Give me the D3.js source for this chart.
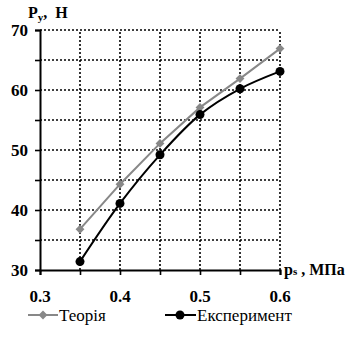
<!DOCTYPE html>
<html><head><meta charset="utf-8">
<script src="https://cdn.jsdelivr.net/npm/d3@7"></script>
</head><body style="margin:0;background:#fff">
<svg id="c" width="354" height="338"></svg>
<script>
const pressure = [0.35, 0.40, 0.45, 0.50, 0.55, 0.60];
const theory = [36.8, 44.3, 51.1, 57.1, 61.9, 66.9];
const experiment = [31.4, 41.1, 49.2, 55.9, 60.2, 63.1];
const xTickLabels = [0.3, 0.4, 0.5, 0.6];
const yTickLabels = [30, 40, 50, 60, 70];

const svg = d3.select("#c");
const x = d3.scaleLinear().domain([0.3, 0.6]).range([40, 280]);
const y = d3.scaleLinear().domain([30, 70]).range([270, 30]);

// text labels (serif, like the rest of the figure)
function txt(xx, yy, size, bold) {
  const t = svg.append("text").attr("x", xx).attr("y", yy)
    .attr("font-family", "'Times New Roman'").attr("font-size", size);
  if (bold) t.attr("font-weight", "bold");
  return t;
}
xTickLabels.forEach(v => txt(x(v), 302, 17, true).attr("text-anchor", "middle").text(v.toFixed(1)));
yTickLabels.forEach(v => txt(28, y(v) + 6, 17, true).attr("text-anchor", "end").text(v));

const yt = txt(28, 18, 16, true);
yt.append("tspan").text("P");
yt.append("tspan").attr("font-size", 11).attr("dy", 3).text("у");
yt.append("tspan").attr("dy", -3).text(",\u00a0 Н");
const xt = txt(284, 275, 16, true);
xt.append("tspan").text("p");
xt.append("tspan").attr("font-size", 11).text("s");
xt.append("tspan").text("\u00a0, МПа");

txt(59, 321, 17, false).text("Теорія");
txt(197, 321, 17, false).text("Експеримент");

// dotted grid
const grid = svg.append("g").attr("stroke", "#000").attr("stroke-width", 1.6).attr("stroke-dasharray", "2,2");
d3.range(35, 70.1, 5).forEach(v => grid.append("line").attr("x1", x(0.3)).attr("x2", x(0.6)).attr("y1", y(v)).attr("y2", y(v)));
d3.range(0.35, 0.601, 0.05).forEach(v => grid.append("line").attr("x1", x(v)).attr("x2", x(v)).attr("y1", y(30)).attr("y2", y(70)));

// axes (tick marks only; labels are drawn above)
const xAxis = svg.append("g").attr("transform", `translate(0,${y(30)})`)
  .call(d3.axisBottom(x).tickValues(d3.range(0.3, 0.601, 0.05)).tickSize(5));
const yAxis = svg.append("g").attr("transform", `translate(${x(0.3)},0)`)
  .call(d3.axisLeft(y).tickValues(d3.range(30, 70.1, 5)).tickSize(5));
[xAxis, yAxis].forEach(a => {
  a.attr("font-family", null).attr("font-size", null);
  a.selectAll(".tick text").remove();
  a.select(".domain").attr("stroke", "#000").attr("stroke-width", 2);
  a.selectAll(".tick line").attr("stroke", "#000").attr("stroke-width", 1.6);
});

// series
const theoryPts = pressure.map((p, i) => [p, theory[i]]);
const expPts = pressure.map((p, i) => [p, experiment[i]]);
const grey = "#888888";
svg.append("path").datum(theoryPts).attr("fill", "none").attr("stroke", grey).attr("stroke-width", 2)
  .attr("d", d3.line().x(d => x(d[0])).y(d => y(d[1])));
svg.append("path").datum(expPts).attr("fill", "none").attr("stroke", "#000").attr("stroke-width", 2)
  .attr("d", d3.line().x(d => x(d[0])).y(d => y(d[1])).curve(d3.curveCatmullRom.alpha(0.5)));
const diamond = d3.symbol().type(d3.symbolDiamond2).size(50);
svg.append("g").selectAll("path").data(theoryPts).join("path")
  .attr("transform", d => `translate(${x(d[0])},${y(d[1])})`).attr("d", diamond).attr("fill", grey);
svg.append("g").selectAll("circle").data(expPts).join("circle")
  .attr("cx", d => x(d[0])).attr("cy", d => y(d[1])).attr("r", 4.5).attr("fill", "#000");

// legend keys
svg.append("line").attr("x1", 28).attr("x2", 58).attr("y1", 315).attr("y2", 315).attr("stroke", grey).attr("stroke-width", 2);
svg.append("path").attr("transform", "translate(43,315)").attr("d", diamond).attr("fill", grey);
svg.append("line").attr("x1", 165).attr("x2", 196).attr("y1", 315).attr("y2", 315).attr("stroke", "#000").attr("stroke-width", 2);
svg.append("circle").attr("cx", 180).attr("cy", 315).attr("r", 4.5).attr("fill", "#000");
</script>
</body></html>
